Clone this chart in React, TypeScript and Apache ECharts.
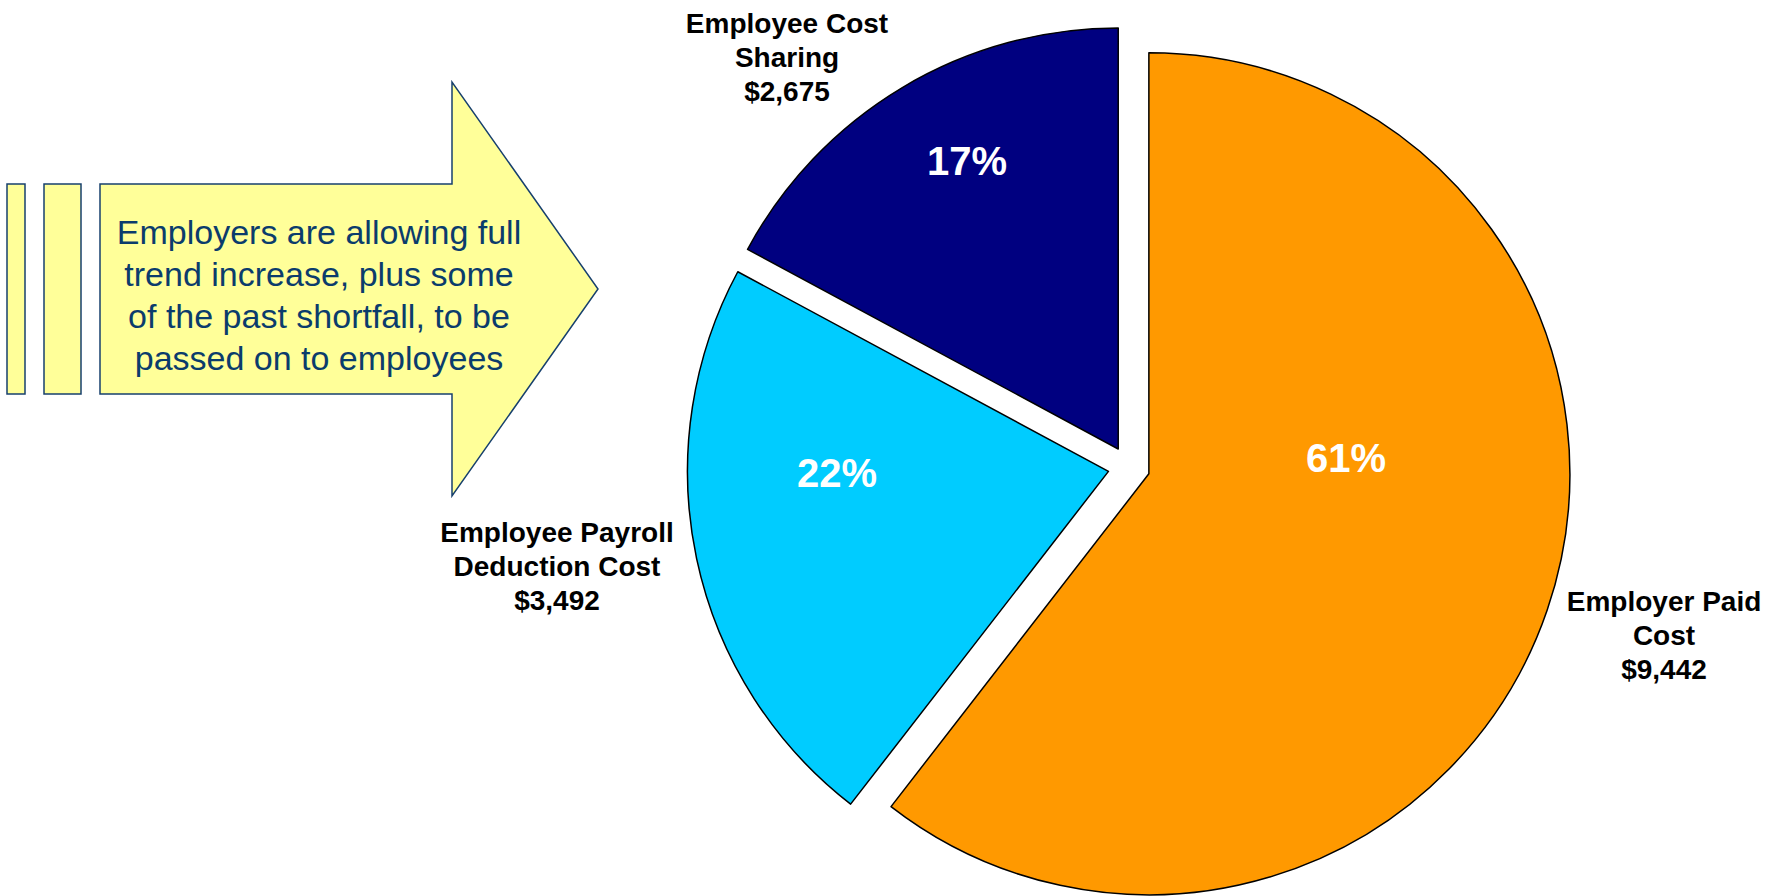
import React, { useEffect, useRef } from "react";
import * as echarts from "echarts";

// ---- data ----
const categories = ["Employer Paid\nCost", "Employee Payroll\nDeduction Cost", "Employee Cost\nSharing"];
const costValues = [9442, 3492, 2675];
const percentLabels = ["61%", "22%", "17%"];
const sliceColors = ["#FF9900", "#00CCFF", "#000080"];
const calloutLines = [
  "Employers are allowing full",
  "trend increase, plus some",
  "of the past shortfall, to be",
  "passed on to employees",
];

// ---- layout (positions, not data) ----
const FONT = "'Liberation Sans', Arial, sans-serif";
const PIE_CENTER = [1129, 467];
const PIE_RADIUS = 421;
const PCT_POS = [
  [1346, 458],
  [837, 473],
  [967, 161],
];
const NAME_POS = [
  [1664, 635],
  [557, 566],
  [787, 57],
];

export default function App() {
  const ref = useRef<HTMLDivElement>(null);

  useEffect(() => {
    if (!ref.current) return;
    const chart = echarts.init(ref.current, null, { renderer: "svg" });

    const sliceData = categories.map((name, i) => ({
      name,
      value: costValues[i],
      selected: true,
      itemStyle: { color: sliceColors[i] },
    }));
    const ghostData = categories.map((name, i) => ({
      name,
      value: costValues[i],
      itemStyle: { color: "rgba(0,0,0,0)" },
    }));

    const arrowStroke = "#17406D";
    const arrowFill = "#FFFF99";

    const ghostBase = {
      type: "pie",
      center: PIE_CENTER,
      radius: PIE_RADIUS,
      startAngle: 90,
      clockwise: true,
      silent: true,
      avoidLabelOverlap: false,
      emphasis: { disabled: true },
      itemStyle: { borderWidth: 0 },
      labelLine: { show: false },
      data: ghostData,
    };

    chart.setOption({
      animation: false,
      backgroundColor: "#ffffff",
      graphic: [
        {
          type: "rect",
          shape: { x: 7, y: 184, width: 18, height: 210 },
          style: { fill: arrowFill, stroke: arrowStroke, lineWidth: 1.5 },
        },
        {
          type: "rect",
          shape: { x: 44, y: 184, width: 37, height: 210 },
          style: { fill: arrowFill, stroke: arrowStroke, lineWidth: 1.5 },
        },
        {
          type: "polygon",
          shape: {
            points: [
              [100, 184],
              [452, 184],
              [452, 82],
              [598, 289],
              [452, 496],
              [452, 394],
              [100, 394],
            ],
          },
          style: { fill: arrowFill, stroke: arrowStroke, lineWidth: 1.5 },
        },
        {
          type: "text",
          x: 319,
          y: 295,
          style: {
            text: calloutLines.join("\n"),
            fill: "#0B3C6C",
            fontSize: 34,
            fontFamily: FONT,
            lineHeight: 42,
            textAlign: "center",
            textVerticalAlign: "middle",
          },
        },
      ],
      series: [
        {
          type: "pie",
          center: PIE_CENTER,
          radius: PIE_RADIUS,
          startAngle: 90,
          clockwise: true,
          selectedMode: "multiple",
          selectedOffset: 21,
          avoidLabelOverlap: false,
          emphasis: { disabled: true },
          itemStyle: { borderColor: "#000000", borderWidth: 1.5 },
          label: { show: false },
          labelLine: { show: false },
          data: sliceData,
        },
        {
          ...ghostBase,
          label: {
            show: true,
            position: "outside",
            formatter: (p: any) => percentLabels[p.dataIndex],
            color: "#ffffff",
            fontSize: 40,
            fontWeight: "bold",
            fontFamily: FONT,
            align: "center",
            textBorderWidth: 0,
          },
          labelLayout: (p: any) => ({
            x: PCT_POS[p.dataIndex][0],
            y: PCT_POS[p.dataIndex][1],
            align: "center",
            verticalAlign: "middle",
          }),
        },
        {
          ...ghostBase,
          label: {
            show: true,
            position: "outside",
            formatter: (p: any) => `${p.name}\n$${Number(p.value).toLocaleString("en-US")}`,
            color: "#000000",
            fontSize: 28,
            fontWeight: "bold",
            fontFamily: FONT,
            lineHeight: 34,
            align: "center",
            textBorderWidth: 0,
          },
          labelLayout: (p: any) => ({
            x: NAME_POS[p.dataIndex][0],
            y: NAME_POS[p.dataIndex][1],
            align: "center",
            verticalAlign: "middle",
          }),
        },
      ],
    });

    return () => chart.dispose();
  }, []);

  return (
    <div
      ref={ref}
      style={{ position: "fixed", left: 0, top: 0, width: 1781, height: 896, background: "#fff" }}
    />
  );
}
